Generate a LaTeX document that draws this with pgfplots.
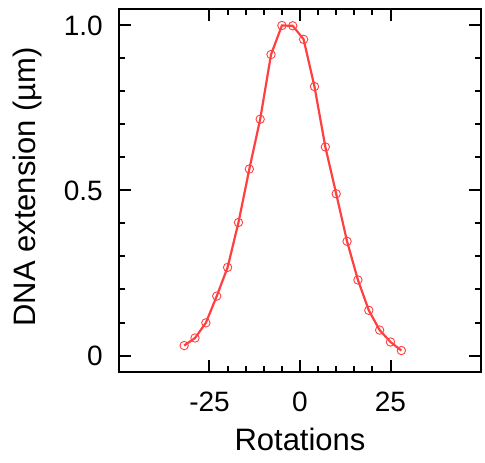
\documentclass[border=0pt]{standalone}
\usepackage{fontspec}
\setmainfont{Liberation Sans}
\usepackage{pgfplots}
\pgfplotsset{compat=1.18}
\definecolor{curvered}{RGB}{255,64,64}

\begin{document}
\begin{tikzpicture}
\begin{axis}[
    name=ax,
    anchor=south west,
    at={(0,0)},
    scale only axis,
    width=362pt,
    height=363pt,
    xmin=-50, xmax=50,
    ymin=-0.05, ymax=1.05,
    xtick={-25,0,25},
    xticklabels={-25,0,25},
    minor x tick num=4,
    ytick={0,0.5,1},
    yticklabels={0,0.5,1.0},
    minor y tick num=4,
    tick pos=both,
    tick align=inside,
    major tick length=12pt,
    minor tick length=6pt,
    axis line style={line width=2.5pt},
    every tick/.style={black, line width=2pt},
    /pgf/number format/assume math mode=true,
    ticklabel style={font=\fontsize{28}{32}\selectfont},
    xticklabel style={inner sep=0pt, anchor=north, yshift=-20pt},
    yticklabel style={inner sep=0pt, anchor=east, xshift=-16pt},
    label style={font=\fontsize{31}{36}\selectfont},
    xlabel={Rotations},
    ylabel={DNA extension (µm)},
    xlabel style={at={(axis description cs:0.5,-0.2176)}, anchor=base},
    ylabel style={at={(axis description cs:-0.254,0.51)}, anchor=center},
    clip=false,
]
\addplot[color=curvered, line width=2.2pt,
    mark=o, mark size=4.2pt,
    mark options={line width=0.9pt, fill=none}]
coordinates {
    (-32, 0.030) (-29, 0.053) (-26, 0.099) (-23, 0.180) (-20, 0.267)
    (-17, 0.403) (-14, 0.565) (-11, 0.716) (-8, 0.912) (-5, 1.000)
    (-2, 0.999) (1, 0.958) (4, 0.815) (7, 0.632) (10, 0.490)
    (13, 0.346) (16, 0.229) (19, 0.137) (22, 0.077) (25, 0.041)
    (28, 0.015)
};
\end{axis}
\pgfresetboundingbox
\useasboundingbox (-119pt,-91pt) rectangle (366pt,372pt);
\end{tikzpicture}
\end{document}
